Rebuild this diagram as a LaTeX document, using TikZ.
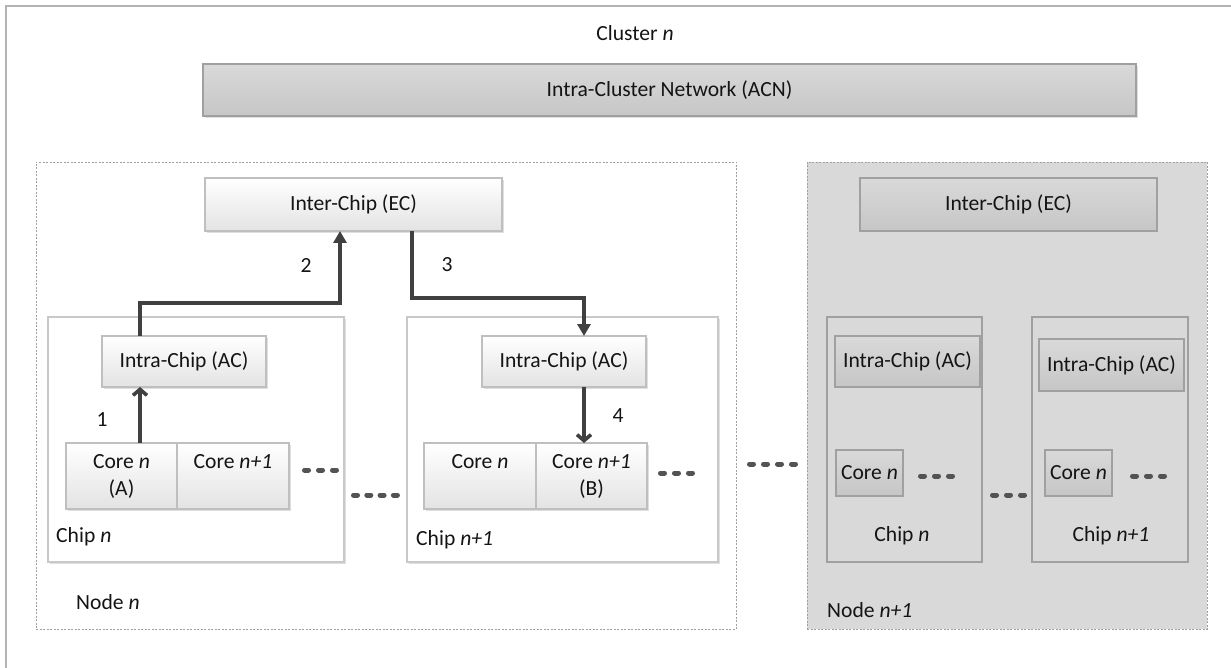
\documentclass[tikz,border=0pt]{standalone}
\usepackage{fontspec}
\setmainfont{Carlito}
\usepackage{xcolor}
\usepackage{tikz}
\usetikzlibrary{positioning}
\usetikzlibrary{arrows.meta}
\usetikzlibrary{shadows}
\definecolor{txt}{HTML}{141414}
\definecolor{lightline}{HTML}{BFBFBF}
\definecolor{lightlow}{HTML}{E3E3E3}
\definecolor{darkline}{HTML}{A0A0A0}
\definecolor{darktop}{HTML}{D9D9D9}
\definecolor{darklow}{HTML}{C6C6C6}
\definecolor{plategray}{HTML}{D9D9D9}
\definecolor{flowcol}{HTML}{404040}
\tikzset{
  box/.style={line width=1.2pt, outer sep=0pt, inner sep=0pt, align=center,
    text=txt},
  soft shadow/.style={drop shadow={shadow xshift=2pt, shadow yshift=-2pt,
    opacity=0.25, fill=gray}},
  light box/.style={box, draw=lightline, top color=white, bottom color=lightlow,
    soft shadow},
  dark box/.style={box, draw=darkline, top color=darktop, bottom color=darklow},
  chip box/.style={box, draw=lightline!85!white, fill=white, soft shadow},
  dark chip/.style={box, draw=darkline},
  node plate/.style={box, draw=darkline, dash pattern=on 2pt off 1.5pt,
    line width=0.9pt},
  label/.style={inner sep=0pt, text=txt},
  flow/.style={draw=flowcol, line width=3.6pt},
  gap dots/.style={draw=flowcol!90!white, line width=5pt, line cap=round,
    dash pattern=on 4pt off 10pt},
}

\begin{document}
\begin{tikzpicture}[x=1pt, y=-1pt, font=\fontsize{21.6}{27}\selectfont]

  \useasboundingbox (0,0) rectangle (1231,668);
  \draw[darkline!80!white, line width=1.5pt] (6,668) -- (6,6) -- (1231,6);

  % Define nodes
  \node[label] (cluster) at (635,33) {Cluster \textit{n}};
  \node[dark box, soft shadow, minimum width=933pt, minimum height=52pt] (acn)
    at (669.5,90) {Intra-Cluster Network (ACN)};

  \node[node plate, minimum width=700pt, minimum height=467pt] (node_n)
    at (386,395.5) {};
  \node[node plate, fill=plategray, minimum width=400pt, minimum height=467pt]
    (node_n1) at (1007,395.5) {};

  \node[light box, minimum width=297pt, minimum height=53pt] (ec_n)
    at (353.5,204.5) {Inter-Chip (EC)};
  \node[dark box, minimum width=297pt, minimum height=53pt] (ec_n1)
    at (1008.5,204.5) {Inter-Chip (EC)};

  \node[chip box, minimum width=296pt, minimum height=245pt] (chip_n)
    at (196,439.5) {};
  \node[chip box, minimum width=311pt, minimum height=245pt] (chip_n1)
    at (562.5,439.5) {};
  \node[dark chip, minimum width=155pt, minimum height=245pt] (chip2_n)
    at (904.5,439.5) {};
  \node[dark chip, minimum width=156pt, minimum height=245pt] (chip2_n1)
    at (1110,439.5) {};

  \node[light box, minimum width=164pt, minimum height=51pt] (ac_n)
    at (184,361.5) {Intra-Chip (AC)};
  \node[light box, minimum width=164pt, minimum height=51pt] (ac_n1)
    at (564,361.5) {Intra-Chip (AC)};
  \node[dark box, minimum width=145pt, minimum height=51pt] (ac2_n)
    at (907.5,361.5) {Intra-Chip (AC)};
  \node[dark box, minimum width=145pt, minimum height=52pt] (ac2_n1)
    at (1111.5,365) {Intra-Chip (AC)};

  \node[light box, minimum width=111pt, minimum height=66pt] (core_a)
    at (121.5,476) {Core \textit{n}\\(A)};
  \node[light box, minimum width=112pt, minimum height=66pt, right=0pt of core_a]
    (core_b) {Core \textit{n+1}\\\phantom{(A)}};
  \node[light box, minimum width=112pt, minimum height=66pt] (core_c)
    at (480,476) {Core \textit{n}\\\phantom{(B)}};
  \node[light box, minimum width=111pt, minimum height=66pt, right=0pt of core_c]
    (core_d) {Core \textit{n+1}\\(B)};
  \node[dark box, minimum width=67pt, minimum height=46pt] (core2_a)
    at (869.5,473) {Core \textit{n}};
  \node[dark box, minimum width=67pt, minimum height=46pt] (core2_b)
    at (1078.5,473) {Core \textit{n}};

  \node[label, anchor=west] (lbl_chip_n) at (56,537) {Chip \textit{n}};
  \node[label, anchor=west] (lbl_chip_n1) at (416,540) {Chip \textit{n+1}};
  \node[label] (lbl_chip2_n) at (902,536) {Chip \textit{n}};
  \node[label] (lbl_chip2_n1) at (1111,536) {Chip \textit{n+1}};
  \node[label, anchor=west] (lbl_node_n) at (76,602) {Node \textit{n}};
  \node[label, anchor=west] (lbl_node_n1) at (827,610) {Node \textit{n+1}};

  \node[label] (step_1) at (102,420) {1};
  \node[label] (step_2) at (306,265) {2};
  \node[label] (step_3) at (447,265) {3};
  \node[label] (step_4) at (618,416) {4};

  \coordinate (bend_up) at (140,303);
  \coordinate (bend_down) at (412,298);

  % Connect nodes
  \draw[flow, -{Straight Barb[length=6pt, width=14pt]}]
    (core_a.north -| bend_up) -- (ac_n.south -| bend_up);
  \draw[flow, -{Triangle[length=12pt, width=13pt]}]
    (ac_n.north -| bend_up) -- (bend_up) -| ([xshift=-13.5pt]ec_n.south);
  \draw[flow, -{Triangle[length=12pt, width=13pt]}]
    (ec_n.south -| bend_down) -- (bend_down) -| ([xshift=20pt]ac_n1.north);
  \draw[flow, -{Straight Barb[length=6pt, width=14pt]}]
    ([xshift=20pt]ac_n1.south) -- ([xshift=20pt]ac_n1.south |- core_d.north);

  % Dots
  \draw[gap dots] (304.5,470) -- (336.5,470);
  \draw[gap dots, dash pattern=on 4pt off 9.3pt] (353.5,495) -- (397.5,495);
  \draw[gap dots] (660.5,473) -- (692.5,473);
  \draw[gap dots] (749.5,464) -- (795.5,464);
  \draw[gap dots] (920.5,476) -- (953.5,476);
  \draw[gap dots] (992.5,495) -- (1024.5,495);
  \draw[gap dots] (1132.5,476) -- (1164.5,476);

\end{tikzpicture}
\end{document}
